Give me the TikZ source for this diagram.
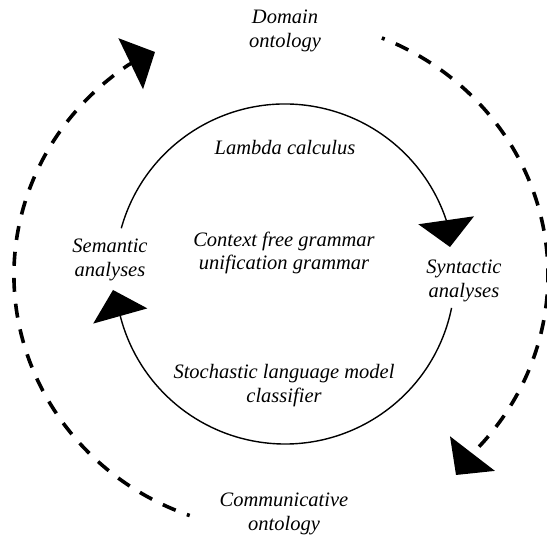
\documentclass[tikz,border=0pt]{standalone}
\usepackage{fontspec}
\setmainfont{Liberation Serif}
\usetikzlibrary{arrows.meta}

\tikzset{
  lbl/.style={font=\fontsize{20.5}{23.5}\selectfont\itshape, align=center, inner sep=0pt},
  bigtip/.style={-{Triangle[length=27pt,width=56pt]}},
  innerloop/.style={line width=1.4pt, bigtip},
  outerloop/.style={line width=3.6pt, line cap=butt, dash pattern=on 14pt off 12pt, dash phase=11pt, bigtip},
}

\begin{document}
\begin{tikzpicture}[x=1pt,y=1pt]
  \useasboundingbox (0,0) rectangle (547,537);

  % centres of the two cycles
  \coordinate (cin) at (285,263);
  \coordinate (cout) at (281,262);

  % arrow tips
  \coordinate (tipsyn) at (450,290);
  \coordinate (tipsem) at (113,247);
  \coordinate (tipcom) at (456,62);
  \coordinate (tipdom) at (155,485);

  % inner cycle
  \draw[innerloop] ([shift={(164.4:170pt)}]cin) arc[start angle=164.4, end angle=18.6, radius=170pt] -- (tipsyn);
  \draw[innerloop] ([shift={(-11.5:170pt)}]cin) arc[start angle=-11.5, end angle=-165.9, radius=170pt] -- (tipsem);

  % outer cycle
  \draw[outerloop] ([shift={(67.8:267pt and 256pt)}]cout) arc[start angle=67.8, end angle=-44, x radius=267pt, y radius=256pt] -- (tipcom);
  \draw[outerloop] ([shift={(250:267pt and 256pt)}]cout) arc[start angle=250, end angle=124.7, x radius=267pt, y radius=256pt] -- (tipdom);

  % labels
  \node[lbl] (dom) at (285,506) {Domain\\ontology};
  \node[lbl] (com) at (284,23) {Communicative\\ontology};
  \node[lbl] (lam) at (285,389) {Lambda calculus};
  \node[lbl] (cfg) at (284,284) {Context free grammar\\unification grammar};
  \node[lbl] (sto) at (284,151.5) {Stochastic language model\\classifier};
  \node[lbl] (syn) at (464,256) {Syntactic\\analyses};
  \node[lbl] (sem) at (110,277) {Semantic\\analyses};
\end{tikzpicture}
\end{document}
